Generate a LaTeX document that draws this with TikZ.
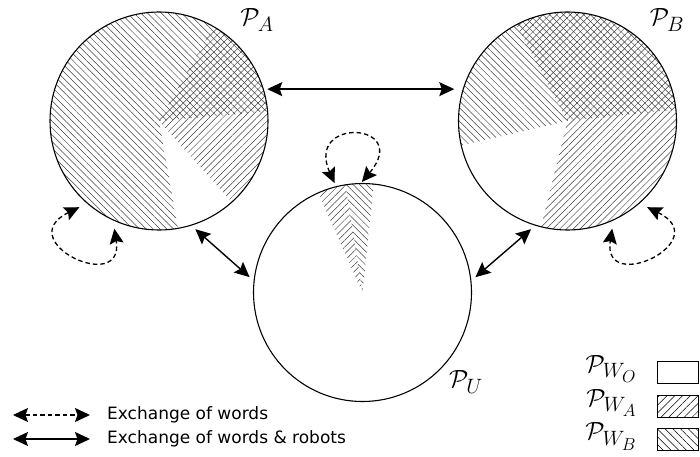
\documentclass[tikz,border=0pt]{standalone}
\usepackage{fontspec}
\usepackage{tikz}
\usetikzlibrary{arrows.meta,patterns.meta,positioning,backgrounds}
\newfontfamily\legfont{DejaVu Sans}
\tikzset{
  pool/.style={circle,draw,line width=1.1pt,inner sep=0pt,outer sep=0pt,minimum size=218pt},
  hatchA/.style={pattern={Lines[angle=45,distance=4.8pt,line width=0.5pt]},pattern color=black!75},
  hatchB/.style={pattern={Lines[angle=-45,distance=4.8pt,line width=0.5pt]},pattern color=black!75},
  keyA/.style={pattern={Lines[angle=45,distance=5.5pt,line width=0.5pt]}},
  keyB/.style={pattern={Lines[angle=-45,distance=5.5pt,line width=0.5pt]}},
  robarr/.style={{Stealth[length=15pt,width=14pt,inset=2.5pt]}-{Stealth[length=15pt,width=14pt,inset=2.5pt]},line width=1.4pt},
  wordarr/.style={robarr,dash pattern=on 4.5pt off 3pt,line width=1.3pt},
  plabel/.style={font=\fontsize{24.88}{30}\selectfont,inner sep=0pt},
  keybox/.style={rectangle,draw,line width=0.8pt,minimum width=41pt,minimum height=22pt,inner sep=0pt},
  legtext/.style={font=\legfont\fontsize{17}{20}\selectfont,inner sep=0pt},
}
\begin{document}
\begin{tikzpicture}[x=1pt,y=1pt]
  \useasboundingbox (0,0) rectangle (700,456);
  % the three pools
  \node[pool] (pa) at (159,335) {};
  \node[pool] (pb) at (567.5,335) {};
  \node[pool] (pu) at (362.5,163.5) {};
  \node[plabel] (la) at (257,436) {$\mathcal{P}_A$};
  \node[plabel] (lb) at (667,436) {$\mathcal{P}_B$};
  \node[plabel] (lu) at (466,74) {$\mathcal{P}_U$};
  \begin{scope}[on background layer]
    \fill[hatchB] (pa.center) -- (pa.5) arc[start angle=5,end angle=280,radius=109pt] -- cycle;
    \fill[hatchA] (pa.center) -- (pa.-48) arc[start angle=-48,end angle=60,radius=109pt] -- cycle;
    \fill[hatchB] (pb.center) -- (pb.6) arc[start angle=6,end angle=193,radius=109pt] -- cycle;
    \fill[hatchA] (pb.center) -- (pb.-104) arc[start angle=-104,end angle=118,radius=109pt] -- cycle;
    \fill[hatchA] (pu.center) -- (pu.99) arc[start angle=99,end angle=114,radius=109pt] -- cycle;
    \fill[hatchB] (pu.center) -- (pu.84) arc[start angle=84,end angle=99,radius=109pt] -- cycle;
  \end{scope}
  % exchanges
  \draw[robarr,shorten <=4pt,shorten >=9pt] (pa.17) -- (pb.163);
  \draw[robarr,shorten <=6pt,shorten >=6pt] (pa.-73) -- (pu.174);
  \draw[robarr,shorten <=6pt,shorten >=6pt] (pu.6) -- (pb.-107);
  \draw[wordarr,shorten <=9pt,shorten >=9pt] (pa.229) to[out=206,in=-81,out distance=86pt,in distance=77pt] (pa.245);
  \draw[wordarr,shorten <=9pt,shorten >=9pt] (pb.-49) to[out=-26,in=-99,out distance=86pt,in distance=77pt] (pb.-65);
  \draw[wordarr,shorten <=4pt,shorten >=2pt] (pu.104) to[out=114,in=50,out distance=77pt,in distance=80pt] (pu.91);
  % legend
  \node[keybox] (kwo) at (677.5,84) {};
  \node[keybox,keyA] (kwa) at (677.5,50) {};
  \node[keybox,keyB] (kwb) at (677.5,16.5) {};
  \node[plabel,left=20pt of kwo,yshift=3pt] (lwo) {$\mathcal{P}_{W_O}$};
  \node[plabel,left=20pt of kwa,yshift=3pt] (lwa) {$\mathcal{P}_{W_A}$};
  \node[plabel,left=20pt of kwb,yshift=3pt] (lwb) {$\mathcal{P}_{W_B}$};
  \coordinate (kw) at (13,41);
  \coordinate (kr) at (13,17);
  \node[legtext,right=94pt of kw] (tw) {Exchange of words};
  \node[legtext,right=94pt of kr] (tr) {Exchange of words \& robots};
  \draw[wordarr,shorten >=17pt] (kw) -- (tw.west);
  \draw[robarr,shorten >=17pt] (kr) -- (tr.west);
\end{tikzpicture}
\end{document}
